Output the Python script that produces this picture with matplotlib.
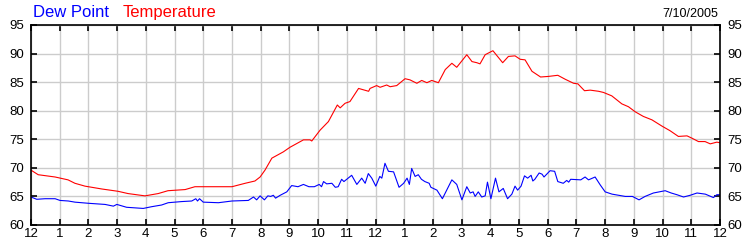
import matplotlib
matplotlib.use('Agg')
import matplotlib.pyplot as plt

plt.rcParams['font.family'] = ['Liberation Sans', 'DejaVu Sans']

# hours since midnight, values in deg F
temp_hours = [0, 0.25, 0.84, 1.29, 1.53, 1.88, 2.47, 3.03, 3.38, 3.97, 4.43, 4.77, 5.37, 5.71, 7.0,
              7.46, 7.8, 7.98, 8.15, 8.39, 8.79, 9.02, 9.49, 9.72, 9.78, 10.07, 10.36, 10.67, 10.77,
              10.94, 11.11, 11.41, 11.76, 11.81, 12.04, 12.16, 12.39, 12.51, 12.74, 13.03, 13.2, 13.44,
              13.61, 13.79, 13.96, 14.19, 14.43, 14.66, 14.83, 15.18, 15.36, 15.53, 15.64, 15.82, 16.09,
              16.43, 16.63, 16.86, 17.04, 17.21, 17.45, 17.75, 18.02, 18.35, 18.61, 18.9, 19.05, 19.28,
              19.48, 19.77, 19.94, 20.23, 20.58, 20.81, 21.05, 21.33, 21.63, 21.98, 22.26, 22.55, 22.85,
              23.02, 23.25, 23.48, 23.66, 23.89, 24.0]
temp_values = [69.6, 68.8, 68.4, 67.9, 67.3, 66.8, 66.3, 65.9, 65.5, 65.1, 65.5, 66.0, 66.2, 66.7, 66.7,
               67.3, 67.7, 68.4, 69.6, 71.7, 72.8, 73.6, 74.9, 74.9, 74.7, 76.6, 78.1, 81.0, 80.5,
               81.3, 81.6, 83.9, 83.4, 83.9, 84.4, 84.1, 84.5, 84.2, 84.4, 85.6, 85.4, 84.8,
               85.3, 84.9, 85.3, 84.9, 87.2, 88.3, 87.6, 89.8, 88.6, 88.4, 88.2, 89.8, 90.5,
               88.4, 89.5, 89.6, 89.0, 88.9, 86.9, 85.9, 86.0, 86.2, 85.5, 84.8, 84.7, 83.5,
               83.6, 83.4, 83.2, 82.6, 81.2, 80.7, 79.8, 79.0, 78.4, 77.3, 76.5, 75.5, 75.6,
               75.2, 74.6, 74.6, 74.2, 74.5, 74.4]

dew_hours = [0, 0.2, 0.49, 0.84, 1.01, 1.3, 1.53, 2.0, 2.58, 2.87, 2.99, 3.33, 3.91, 4.2, 4.55, 4.78,
             5.25, 5.6, 5.74, 5.8, 5.87, 6.0, 6.53, 7.0, 7.57, 7.75, 7.86, 7.98, 8.13, 8.25, 8.35, 8.44,
             8.52, 8.68, 8.91, 9.08, 9.3, 9.49, 9.68, 9.87, 10.04, 10.12, 10.19, 10.3, 10.48, 10.6, 10.7,
             10.82, 10.9, 11.0, 11.17, 11.35, 11.52, 11.64, 11.75, 11.87, 12.01, 12.15, 12.22, 12.33,
             12.45, 12.63, 12.82, 12.98, 13.1, 13.18, 13.26, 13.38, 13.49, 13.6, 13.72, 13.87, 13.93,
             14.14, 14.33, 14.45, 14.66, 14.83, 15.01, 15.18, 15.3, 15.4, 15.47, 15.58, 15.7, 15.82,
             15.9, 16.02, 16.18, 16.3, 16.45, 16.6, 16.75, 16.86, 16.95, 17.07, 17.19, 17.3, 17.42,
             17.48, 17.55, 17.7, 17.8, 17.87, 18.08, 18.24, 18.35, 18.54, 18.66, 18.73, 18.8, 19.15,
             19.3, 19.42, 19.65, 19.83, 20.0, 20.24, 20.47, 20.7, 20.95, 21.18, 21.39, 21.68, 22.09,
             22.3, 22.5, 22.73, 22.96, 23.2, 23.49, 23.77, 23.89, 24.0]
dew_values = [64.9, 64.5, 64.6, 64.6, 64.3, 64.2, 64.0, 63.8, 63.6, 63.3, 63.6, 63.1, 62.9, 63.2, 63.5, 63.9,
              64.1, 64.2, 64.6, 64.2, 64.6, 64.0, 63.9, 64.2, 64.3, 64.9, 64.4, 65.1, 64.4, 65.1, 65.0, 65.2,
              64.7, 65.2, 65.8, 66.9, 66.7, 67.1, 66.7, 66.7, 67.1, 66.7, 67.6, 67.2, 67.3, 66.6, 66.7,
              68.0, 67.6, 68.0, 68.7, 67.1, 68.2, 67.3, 69.0, 68.2, 66.8, 68.5, 68.2, 70.8,
              69.4, 69.3, 66.6, 67.3, 68.2, 67.1, 69.9, 68.5, 68.8, 68.0, 67.6, 67.3, 66.6,
              66.1, 64.6, 65.8, 67.9, 67.1, 64.4, 66.7, 65.6, 65.8, 65.0, 65.8, 64.9, 65.1,
              67.5, 64.6, 68.2, 65.8, 66.4, 64.6, 65.4, 66.8, 66.1, 66.8, 68.6, 68.2, 68.7,
              67.7, 68.0, 69.1, 68.9, 68.4, 69.5, 69.4, 67.6, 67.3, 67.8, 67.5, 68.0, 67.9,
              68.4, 67.9, 68.4, 67.0, 65.8, 65.4, 65.2, 65.0, 65.0, 64.4, 65.0, 65.6, 66.0,
              65.6, 65.3, 64.9, 65.2, 65.6, 65.4, 64.8, 65.3, 65.3]

hour_ticks = list(range(25))
hour_labels = ['12', '1', '2', '3', '4', '5', '6', '7', '8', '9', '10', '11',
               '12', '1', '2', '3', '4', '5', '6', '7', '8', '9', '10', '11', '12']
y_ticks = [60, 65, 70, 75, 80, 85, 90, 95]

fig = plt.figure(figsize=(7.5, 2.5), dpi=100)
ax = fig.add_axes([31 / 750, 1 - 225 / 250, 689 / 750, 200 / 250])

ax.plot(temp_hours, temp_values, color='#ff0000', linewidth=0.8)
ax.plot(dew_hours, dew_values, color='#0000ff', linewidth=0.8)

ax.set_xlim(0, 24)
ax.set_ylim(60, 95)
ax.set_xticks(hour_ticks)
ax.set_xticklabels(hour_labels)
ax.set_yticks(y_ticks)

ax.grid(True, color='#cccccc', linewidth=1.0)
ax.set_axisbelow(True)
for s in ax.spines.values():
    s.set_linewidth(1.2)
    s.set_color('black')

ax.tick_params(axis='both', direction='in', length=4, width=1.2, labelsize=9.5,
               top=True, right=True, labelright=True)
ax.tick_params(axis='x', pad=2)
ax.tick_params(axis='y', pad=5)

fig.text(33 / 750, 1 - 17 / 250, 'Dew Point', color='#0000ff', fontsize=12, va='baseline')
fig.text(123 / 750, 1 - 17 / 250, 'Temperature', color='#ff0000', fontsize=12, va='baseline')
fig.text(718 / 750, 1 - 17 / 250, '7/10/2005', color='black', fontsize=9, va='baseline', ha='right')

fig.savefig('out.png', dpi=100)
